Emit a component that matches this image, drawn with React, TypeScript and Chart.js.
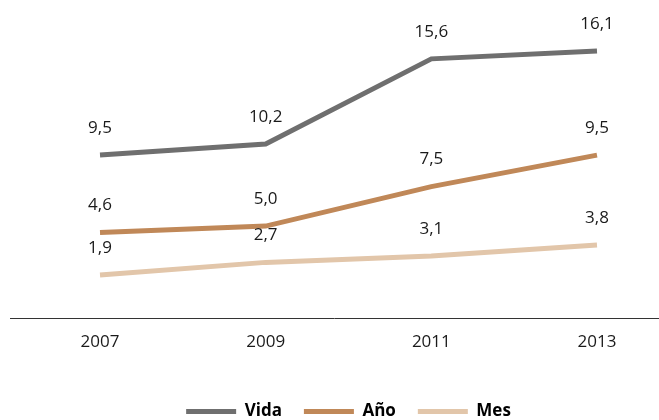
import React, { useEffect, useRef } from "react";
import { Chart, registerables } from "chart.js";

Chart.register(...registerables);

const years = ["2007", "2009", "2011", "2013"];
const vida = [9.5, 10.2, 15.6, 16.1];
const anio = [4.6, 5.0, 7.5, 9.5];
const mes = [1.9, 2.7, 3.1, 3.8];
const seriesNames = ["Vida", "Año", "Mes"];
const seriesColors = ["#6f6f6f", "#c08858", "#e2c6aa"];

const FONT = "'Open Sans', 'Noto Sans', sans-serif";

const fmt = (v: number) => v.toFixed(1).replace(".", ",");

const labelPlugin = {
  id: "valueLabels",
  afterDatasetsDraw(chart: any) {
    const ctx = chart.ctx;
    ctx.save();
    ctx.font = `17px ${FONT}`;
    ctx.fillStyle = "#1a1a1a";
    ctx.textAlign = "center";
    ctx.textBaseline = "middle";
    chart.data.datasets.forEach((ds: any, i: number) => {
      const meta = chart.getDatasetMeta(i);
      meta.data.forEach((pt: any, j: number) => {
        ctx.fillText(fmt(ds.data[j]), pt.x, pt.y - 27);
      });
    });
    ctx.restore();
  },
};

const axisLinePlugin = {
  id: "axisLine",
  afterDraw(chart: any) {
    const ctx = chart.ctx;
    const y = chart.chartArea.bottom;
    ctx.save();
    ctx.strokeStyle = "#333333";
    ctx.lineWidth = 1;
    ctx.beginPath();
    ctx.moveTo(10, Math.round(y) + 0.5);
    ctx.lineTo(chart.width, Math.round(y) + 0.5);
    ctx.stroke();
    ctx.restore();
  },
};

export default function App() {
  const ref = useRef<HTMLCanvasElement>(null);
  useEffect(() => {
    document.body.style.margin = "0";
    const data = [vida, anio, mes];
    const chart = new Chart(ref.current!, {
      type: "line",
      data: {
        labels: years,
        datasets: seriesNames.map((n, i) => ({
          label: n,
          data: data[i],
          borderColor: seriesColors[i],
          backgroundColor: seriesColors[i],
          borderWidth: 5,
          pointRadius: 0,
          tension: 0,
        })),
      },
      options: {
        animation: false,
        responsive: false,
        layout: { padding: { left: 100, right: 62, top: 21, bottom: 0 } },
        scales: {
          x: {
            offset: false,
            grid: { display: false, drawTicks: false },
            border: { display: false },
            ticks: { color: "#1a1a1a", font: { family: FONT, size: 17 }, padding: 14 },
            afterFit: (s: any) => {
              s.height += 15;
            },
          },
          y: { display: false, min: -0.8, max: 18 },
        },
        plugins: {
          legend: {
            position: "bottom",
            labels: {
              boxWidth: 50,
              boxHeight: 5,
              color: "#000",
              font: { family: FONT, size: 17, weight: "bold" },
              padding: 22,
              generateLabels: (chart: any) =>
                Chart.defaults.plugins.legend.labels
                  .generateLabels(chart)
                  .map((l: any) => ({ ...l, lineWidth: 0 })),
            },
          },
          tooltip: { enabled: false },
        },
      },
      plugins: [labelPlugin, axisLinePlugin],
    });
    return () => chart.destroy();
  }, []);
  return <canvas ref={ref} width={659} height={430} style={{ display: "block" }} />;
}
